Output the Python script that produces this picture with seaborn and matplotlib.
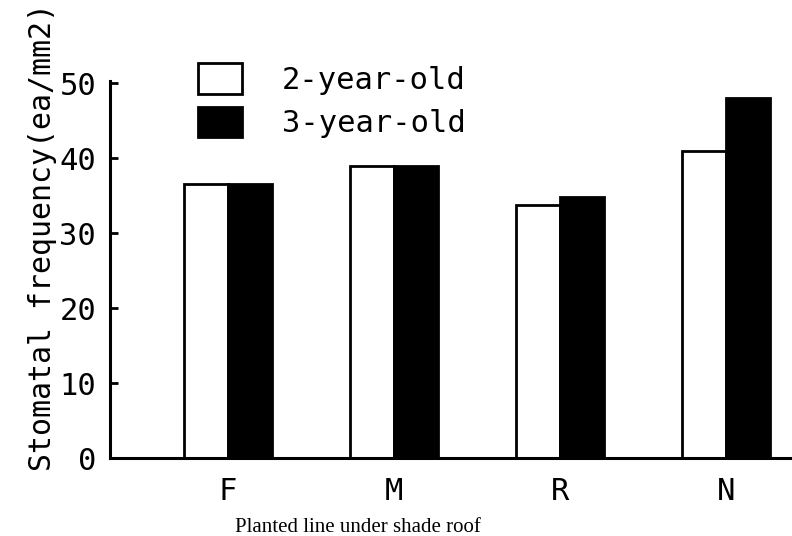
import pandas as pd
import matplotlib.pyplot as plt
import seaborn as sns

# values
lines = ['F', 'M', 'R', 'N']
two_year = [36.5, 39.0, 33.7, 41.0]
three_year = [36.5, 39.0, 34.8, 48.0]
ages = ['2-year-old', '3-year-old']

df = pd.DataFrame({
    'line': lines * 2,
    'age': [ages[0]] * 4 + [ages[1]] * 4,
    'freq': two_year + three_year,
})

sns.set_style('ticks', {'axes.edgecolor': 'black', 'text.color': 'black',
                        'xtick.color': 'black', 'ytick.color': 'black',
                        'axes.labelcolor': 'black'})
plt.rcParams['font.family'] = ['DejaVu Sans Mono', 'DejaVu Sans']

fig = plt.figure(figsize=(7.92, 5.36), dpi=100)
ax = fig.add_axes([0.139, 0.1455, 0.861, 0.7035])

sns.barplot(data=df, x='line', y='freq', hue='age', order=lines, hue_order=ages,
            palette=['white', 'black'], edgecolor='black', linewidth=2,
            width=0.53, gap=0, saturation=1, ax=ax)

ax.set_xlim(-0.71, 3.40)
ax.set_ylim(0, 50.3)
ax.set_yticks([0, 10, 20, 30, 40, 50])
ax.tick_params(axis='y', direction='in', length=6, width=2, labelsize=22, pad=10)
ax.tick_params(axis='x', length=0, labelsize=22, pad=14)

sns.despine(ax=ax)
ax.spines['left'].set_linewidth(2.2)
ax.spines['bottom'].set_linewidth(2.2)

ax.set_ylabel('Stomatal frequency(ea/mm2)', fontsize=21.5)
ax.yaxis.set_label_coords(-0.078, 0.585)
ax.set_xlabel('Planted line under shade roof', fontsize=15,
              family='Liberation Serif')
ax.xaxis.set_label_coords((358 - 110) / 682, -0.16)

handles, labels = ax.get_legend_handles_labels()
ax.legend(handles, labels, loc='upper left', bbox_to_anchor=(0.088, 1.12),
          frameon=False, fontsize=22, handlelength=1.45, handleheight=1.15,
          handletextpad=1.3, labelspacing=0.4)

plt.savefig('out.png', dpi=100)
plt.close()
